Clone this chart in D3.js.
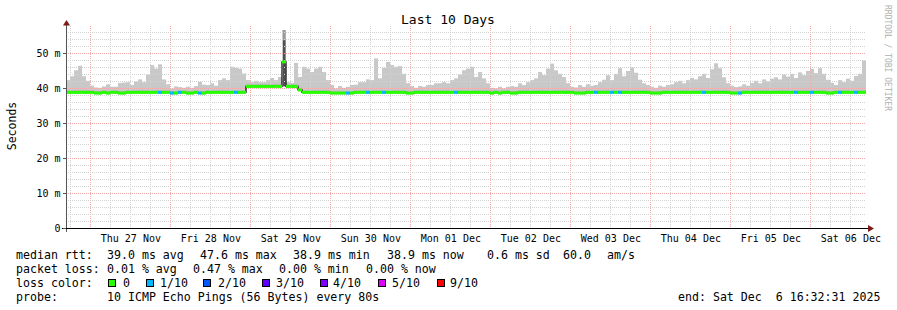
<!DOCTYPE html>
<html>
<head>
<meta charset="utf-8">
<script src="https://cdn.jsdelivr.net/npm/d3@7"></script>
<style>
  html, body { margin: 0; padding: 0; background: #fff; }
  text { font-family: "DejaVu Sans Mono", monospace; fill: #000; white-space: pre; }
</style>
</head>
<body>
<svg id="chart" width="897" height="310"></svg>
<script>
// time window of the graph (UTC)
const startTime = Date.UTC(2025, 10, 26, 16, 32, 31);
const endTime = Date.UTC(2025, 11, 6, 16, 32, 31);

// highest ping per time bin (ms), 200 bins of 1.2 h
const smokeMax = [
  42.4, 43.5, 45.2, 46.5, 43.5, 42.2, 40.8, 40.3, 40.2, 40.6, 41.2, 40.5, 40.5, 41.6, 41.7, 41.8, 41.0, 42.0, 42.6, 41.8,
  44.0, 46.7, 45.7, 46.9, 42.6, 41.2, 40.0, 40.6, 40.4, 40.2, 40.5, 40.2, 40.7, 41.9, 41.1, 41.0, 41.5, 40.8, 42.4, 42.9,
  42.4, 46.2, 45.9, 45.7, 44.3, 42.4, 41.8, 42.2, 41.8, 41.8, 42.4, 43.0, 42.4, 43.3, 56.7, 41.8, 41.6, 47.3, 43.3, 46.2,
  45.7, 44.7, 45.7, 46.2, 44.7, 42.4, 41.0, 40.0, 40.7, 40.2, 40.5, 41.0, 41.1, 41.8, 41.8, 42.6, 42.4, 48.6, 42.9, 45.9,
  47.6, 46.7, 46.2, 46.4, 44.2, 41.5, 40.7, 40.2, 40.7, 40.5, 41.0, 41.0, 41.5, 41.5, 41.8, 41.5, 42.4, 42.9, 44.0, 45.2,
  45.7, 46.2, 43.3, 44.7, 42.9, 41.5, 40.2, 40.0, 40.5, 40.0, 40.5, 40.7, 40.5, 41.5, 41.0, 41.8, 42.4, 42.9, 44.7, 43.8,
  45.7, 47.1, 45.2, 44.2, 43.3, 41.5, 40.5, 40.3, 41.0, 40.5, 41.2, 40.8, 41.0, 41.8, 42.5, 43.8, 42.4, 44.2, 45.8, 43.5,
  45.0, 46.0, 44.5, 42.5, 41.5, 41.0, 40.5, 40.2, 40.8, 40.5, 41.0, 41.2, 41.8, 42.2, 41.5, 42.4, 43.0, 42.6, 43.5, 44.2,
  43.0, 45.5, 47.2, 45.8, 43.2, 41.5, 40.8, 40.4, 40.6, 41.2, 40.8, 41.6, 42.2, 41.5, 42.6, 42.0, 42.8, 43.2, 42.6, 44.0,
  43.4, 44.2, 43.0, 44.6, 43.8, 45.0, 45.6, 44.4, 45.8, 44.2, 42.5, 41.6, 41.0, 42.4, 41.8, 42.8, 42.2, 43.6, 44.2, 48.0
];

// median rtt per bin (ms)
const median = [
  38.9, 38.9, 38.9, 38.9, 38.9, 38.9, 38.9, 38.7, 38.7, 38.9, 38.7, 38.9, 38.9, 38.7, 38.7, 38.9, 38.9, 38.9, 38.9, 38.9,
  38.9, 38.9, 38.9, 38.9, 38.9, 38.9, 38.7, 38.7, 38.9, 38.9, 38.7, 38.7, 38.9, 38.7, 38.7, 38.9, 38.9, 38.9, 38.9, 38.9,
  38.9, 38.9, 38.9, 38.9, 38.9, 40.6, 40.6, 40.6, 40.6, 40.6, 40.6, 40.6, 40.6, 40.6, 47.6, 40.6, 40.6, 40.6, 39.6, 38.9,
  38.9, 38.9, 38.9, 38.9, 38.9, 38.9, 38.7, 38.7, 38.7, 38.7, 38.7, 38.7, 38.9, 38.9, 38.9, 38.9, 38.9, 38.9, 38.9, 38.9,
  38.9, 38.9, 38.9, 38.9, 38.9, 38.7, 38.7, 38.9, 38.9, 38.9, 38.9, 38.9, 38.9, 38.9, 38.9, 38.9, 38.9, 38.9, 38.9, 38.9,
  38.9, 38.9, 38.9, 38.9, 38.9, 38.9, 38.7, 38.9, 38.7, 38.9, 38.9, 38.7, 38.7, 38.9, 38.9, 38.9, 38.9, 38.9, 38.9, 38.9,
  38.9, 38.9, 38.9, 38.9, 38.9, 38.9, 38.9, 38.7, 38.7, 38.7, 38.9, 38.9, 38.9, 38.9, 38.9, 38.9, 38.9, 38.9, 38.9, 38.9,
  38.9, 38.9, 38.9, 38.9, 38.9, 38.9, 38.7, 38.7, 38.7, 38.9, 38.9, 38.9, 38.9, 38.9, 38.9, 38.9, 38.9, 38.9, 38.9, 38.9,
  38.9, 38.9, 38.9, 38.9, 38.9, 38.9, 38.7, 38.7, 38.7, 38.9, 38.9, 38.9, 38.9, 38.9, 38.9, 38.9, 38.9, 38.9, 38.9, 38.9,
  38.9, 38.9, 38.9, 38.9, 38.9, 38.9, 38.9, 38.9, 38.9, 38.9, 38.7, 38.7, 38.9, 38.9, 38.9, 38.9, 38.9, 38.9, 38.9, 38.9
];

// bins with packet loss (index, lost pings of 10)
const lossCol = [23, 26, 28, 33, 42, 70, 75, 79, 97, 132, 136, 138, 159, 168, 182, 186, 193, 197];
const lossCount = [1, 1, 1, 1, 1, 1, 1, 1, 1, 1, 1, 1, 1, 1, 1, 1, 1, 1];

// bins where the inner pings are far off the median
const darkCol = [54];
const darkTop = [53.8];

const lossLabels = ['0', '1/10', '2/10', '3/10', '4/10', '5/10', '9/10'];
const lossColors = ['#26ff00', '#00b8ff', '#0059ff', '#5e00ff', '#7e00ff', '#dd00ff', '#ff0000'];
const lossLevels = [0, 1, 2, 3, 4, 5, 9];

const yTickValues = [0, 10, 20, 30, 40, 50];

const svg = d3.select('#chart');
svg.append('rect').attr('width', 897).attr('height', 310).attr('fill', '#fff');

const nBins = smokeMax.length;
const binMs = (endTime - startTime) / nBins;

const x = d3.scaleUtc()
  .domain([new Date(startTime), new Date(endTime)])
  .range([66, 866]);
const y = d3.scaleLinear()
  .domain([0, 200 / 3.5])
  .range([228.5, 28.5]);

const binX = (i) => x(new Date(startTime + i * binMs));
const binW = (i) => binX(i + 1) - binX(i);

function lossColor(n) {
  let c = lossColors[0];
  lossLevels.forEach((lv, k) => { if (n >= lv) c = lossColors[k]; });
  return c;
}

// ---- smoke
const smoke = svg.append('g');
smokeMax.forEach((v, i) => {
  const m = median[i];
  smoke.append('rect')
    .attr('x', binX(i)).attr('width', binW(i))
    .attr('y', y(v)).attr('height', y(m - 0.4) - y(v))
    .attr('fill', '#c8c8c8');
  const inner = Math.min(v, m + 0.6);
  smoke.append('rect')
    .attr('x', binX(i)).attr('width', binW(i))
    .attr('y', y(inner)).attr('height', y(m) - y(inner))
    .attr('fill', '#bababa');
});
darkCol.forEach((c, k) => {
  smoke.append('rect')
    .attr('x', binX(c) + 1).attr('width', binW(c) - 1.5)
    .attr('y', y(smokeMax[c])).attr('height', y(darkTop[k]) - y(smokeMax[c]))
    .attr('fill', '#9a9a9a');
  smoke.append('rect')
    .attr('x', binX(c) + 1).attr('width', binW(c) - 1.5)
    .attr('y', y(darkTop[k])).attr('height', y(median[c - 1]) - y(darkTop[k]))
    .attr('fill', '#505050');
});

// ---- grid
const grid = svg.append('g').attr('stroke-width', 1).attr('stroke-dasharray', '1,1');
x.ticks(d3.utcHour.every(6)).forEach((t) => {
  const px = Math.floor(x(t)) + 0.5;
  const major = t.getUTCHours() === 0;
  grid.append('line')
    .attr('x1', px).attr('x2', px).attr('y1', 26).attr('y2', 228)
    .attr('stroke', major ? '#f4a8a8' : '#d2d2d2');
});
d3.range(2, 57, 2).forEach((v) => {
  grid.append('line')
    .attr('x1', 66).attr('x2', 866).attr('y1', y(v)).attr('y2', y(v))
    .attr('stroke', v % 10 === 0 ? '#f4a8a8' : '#d2d2d2');
});

// ---- median line
const medLine = d3.line()
  .x((d, i) => binX(i))
  .y((d) => y(d))
  .curve(d3.curveStepAfter);
svg.append('path')
  .datum(median.concat([median[nBins - 1]]))
  .attr('d', medLine)
  .attr('fill', 'none').attr('stroke', '#000').attr('stroke-width', 1.2);

const lossByCol = {};
lossCol.forEach((c, k) => { lossByCol[c] = lossCount[k]; });
median.forEach((m, i) => {
  svg.append('rect')
    .attr('x', binX(i)).attr('width', binW(i))
    .attr('y', y(m) - 1.5).attr('height', 3)
    .attr('fill', lossColor(lossByCol[i] || 0));
});

// ---- axes
svg.append('line').attr('x1', 66.5).attr('x2', 66.5).attr('y1', 232).attr('y2', 24)
  .attr('stroke', '#555').attr('stroke-width', 1);
svg.append('line').attr('x1', 62).attr('x2', 869).attr('y1', 228.5).attr('y2', 228.5)
  .attr('stroke', '#000').attr('stroke-width', 1);
svg.append('path').attr('d', 'M63,25.5 L70,25.5 L66.5,20 Z').attr('fill', '#7f1a1a');
svg.append('path').attr('d', 'M868,225 L868,232 L874,228.5 Z').attr('fill', '#7f1a1a');

yTickValues.forEach((v) => {
  svg.append('line').attr('x1', 63).attr('x2', 66).attr('y1', y(v)).attr('y2', y(v))
    .attr('stroke', '#555');
  svg.append('text')
    .attr('x', 60.5).attr('y', y(v) + 3.6)
    .attr('text-anchor', 'end').attr('font-size', 10)
    .text(v === 0 ? '0' : v + ' m');
});

const dayFmt = d3.utcFormat('%a %d %b');
x.ticks(d3.utcDay.every(1)).forEach((d) => {
  const noon = new Date(d.getTime() + 12 * 3600 * 1000);
  if (noon.getTime() < startTime || noon.getTime() > endTime) return;
  svg.append('text')
    .attr('x', x(noon)).attr('y', 241.5)
    .attr('text-anchor', 'middle').attr('font-size', 10)
    .text(dayFmt(noon));
});

svg.append('text')
  .attr('x', 448).attr('y', 24)
  .attr('text-anchor', 'middle').attr('font-size', 13)
  .text('Last 10 Days');

svg.append('text')
  .attr('transform', 'translate(15.5,126) rotate(-90)')
  .attr('text-anchor', 'middle').attr('font-size', 11.5)
  .text('Seconds');

svg.append('text')
  .attr('transform', 'translate(885,5) rotate(90)')
  .attr('font-size', 8).style('fill', '#b0b0b0')
  .text('RRDTOOL / TOBI OETIKER');

// ---- legend
const rttRow = [[16, 'median rtt:'], [107, '39.0 ms avg'], [200, '47.6 ms max'], [293, '38.9 ms min'],
  [387, '38.9 ms now'], [487, '0.6 ms sd'], [563, '60.0'], [607, 'am/s']];
const lossRow = [[16, 'packet loss:'], [107, '0.01 % avg'], [193, '0.47 % max'], [279, '0.00 % min'], [366, '0.00 % now']];
const probeRow = [[16, 'probe:'], [107, '10 ICMP Echo Pings (56 Bytes) every 80s'], [678, 'end: Sat Dec  6 16:32:31 2025']];
const swatchX = [108, 146, 203, 262, 320, 378, 437];
const swatchLabelX = [123, 160, 218, 276, 333, 392, 450];

const legend = svg.append('g').attr('font-size', 11.6);
function row(items, yy) {
  items.forEach(([xx, t]) => {
    legend.append('text').attr('x', xx).attr('y', yy).text(t);
  });
}
row(rttRow, 258.5);
row(lossRow, 272.5);
row([[16, 'loss color:']], 286.5);
row(probeRow, 300.5);

lossLabels.forEach((lab, k) => {
  legend.append('rect')
    .attr('x', swatchX[k] + 0.5).attr('y', 279.5).attr('width', 7).attr('height', 7)
    .attr('fill', lossColors[k]).attr('stroke', '#000').attr('stroke-width', 1);
  legend.append('text').attr('x', swatchLabelX[k]).attr('y', 286.5).text(lab);
});
</script>
</body>
</html>
